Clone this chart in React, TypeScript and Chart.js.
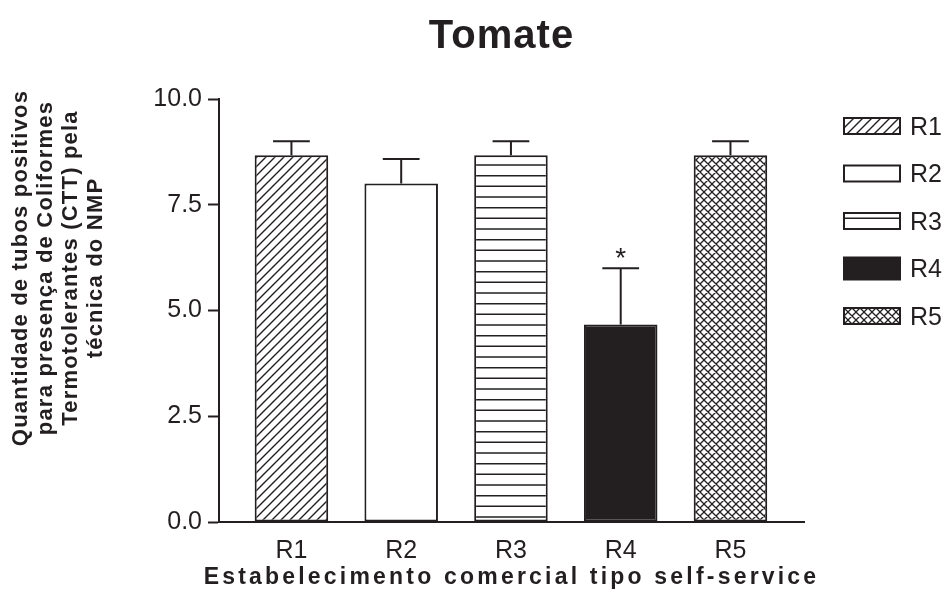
import React, { useEffect, useRef } from 'react';
import { Chart, registerables } from 'chart.js';

Chart.register(...registerables);

const categories = ['R1', 'R2', 'R3', 'R4', 'R5'];
const means = [8.67, 8.0, 8.67, 4.67, 8.67];
const errors = [0.33, 0.58, 0.33, 1.33, 0.33];
const marks = ['', '', '', '*', ''];
const yTicks = [0, 2.5, 5, 7.5, 10];
const chartTitle = 'Tomate';
const xTitle = 'Estabelecimento comercial tipo self-service';
const yTitle = [
  'Quantidade de tubos positivos',
  'para presença de Coliformes',
  'Termotolerantes (CTT) pela',
  'técnica do NMP',
];

const INK = '#231f20';
const FONT = '"Liberation Sans", Arial, Helvetica, sans-serif';

function tile(w: number, h: number, draw: (c: CanvasRenderingContext2D) => void) {
  const cv = document.createElement('canvas');
  cv.width = w;
  cv.height = h;
  const c = cv.getContext('2d')!;
  c.fillStyle = '#ffffff';
  c.fillRect(0, 0, w, h);
  c.strokeStyle = INK;
  draw(c);
  return c.createPattern(cv, 'repeat')!;
}

function diagPattern() {
  const s = 9;
  return tile(s, s, (c) => {
    c.lineWidth = 1.4;
    c.beginPath();
    c.moveTo(-1, s + 1);
    c.lineTo(s + 1, -1);
    c.moveTo(-2, 2);
    c.lineTo(2, -2);
    c.moveTo(s - 2, s + 2);
    c.lineTo(s + 2, s - 2);
    c.stroke();
  });
}

function crossPattern() {
  const s = 8;
  return tile(s, s, (c) => {
    c.lineWidth = 1.3;
    c.beginPath();
    c.moveTo(-1, s + 1);
    c.lineTo(s + 1, -1);
    c.moveTo(-2, 2);
    c.lineTo(2, -2);
    c.moveTo(s - 2, s + 2);
    c.lineTo(s + 2, s - 2);
    c.moveTo(-1, -1);
    c.lineTo(s + 1, s + 1);
    c.moveTo(-2, s - 2);
    c.lineTo(2, s + 2);
    c.moveTo(s - 2, -2);
    c.lineTo(s + 2, 2);
    c.stroke();
  });
}

function horizPattern() {
  const h = 32;
  return tile(8, h, (c) => {
    c.lineWidth = 1.5;
    c.beginPath();
    [5, 15.67, 26.33].forEach((y) => {
      c.moveTo(0, y);
      c.lineTo(8, y);
    });
    c.stroke();
  });
}

export default function App() {
  const ref = useRef<HTMLCanvasElement>(null);

  useEffect(() => {
    const canvas = ref.current!;
    const fills: any[] = [diagPattern(), '#ffffff', horizPattern(), INK, crossPattern()];

    const datasets = categories.map((cat, i) => ({
      label: cat,
      data: [{ x: i, y: means[i] }],
      backgroundColor: fills[i],
      borderColor: INK,
      borderWidth: 2,
      borderSkipped: false,
      grouped: false,
      barPercentage: 0.67,
      categoryPercentage: 1,
    }));

    const errorPlugin = {
      id: 'errorBars',
      afterDatasetsDraw(chart: any) {
        const ctx = chart.ctx;
        const yScale = chart.scales.y;
        ctx.save();
        ctx.strokeStyle = INK;
        ctx.lineWidth = 2;
        categories.forEach((_, i) => {
          const el = chart.getDatasetMeta(i).data[0];
          if (!el) return;
          const yTop = yScale.getPixelForValue(means[i] + errors[i]);
          const half = el.width / 4;
          ctx.beginPath();
          ctx.moveTo(el.x, el.y);
          ctx.lineTo(el.x, yTop);
          ctx.moveTo(el.x - half, yTop);
          ctx.lineTo(el.x + half, yTop);
          ctx.stroke();
          if (marks[i]) {
            ctx.fillStyle = INK;
            ctx.font = `28px ${FONT}`;
            ctx.textAlign = 'center';
            ctx.textBaseline = 'alphabetic';
            ctx.fillText(marks[i], el.x, yTop - 1);
          }
        });
        ctx.restore();
      },
    };

    const legendPlugin = {
      id: 'patternLegend',
      afterDraw(chart: any) {
        const ctx = chart.ctx;
        const ca = chart.chartArea;
        ctx.save();
        categories.forEach((cat, i) => {
          const x = ca.right + 40;
          const cy = ca.top + 27 + 47.5 * i;
          const h = fills[i] === INK ? 22 : 16;
          ctx.fillStyle = fills[i];
          ctx.fillRect(x, cy - h / 2, 56, h);
          ctx.strokeStyle = INK;
          ctx.lineWidth = 2;
          ctx.strokeRect(x, cy - h / 2, 56, h);
          ctx.fillStyle = INK;
          ctx.font = `25px ${FONT}`;
          ctx.textAlign = 'left';
          ctx.textBaseline = 'middle';
          ctx.fillText(cat, x + 66, cy + 2);
        });
        ctx.restore();
      },
    };

    const titlesPlugin = {
      id: 'titles',
      afterDraw(chart: any) {
        const ctx = chart.ctx;
        const ca = chart.chartArea;
        const cx = (ca.left + ca.right) / 2;
        ctx.save();
        ctx.fillStyle = INK;
        ctx.textAlign = 'center';
        ctx.textBaseline = 'middle';
        ctx.font = `bold 40px ${FONT}`;
        (ctx as any).letterSpacing = '1px';
        ctx.fillText(chartTitle, cx - 10, 37);
        ctx.font = `bold 23px ${FONT}`;
        (ctx as any).letterSpacing = '3.2px';
        ctx.fillText(xTitle, cx, 578);
        ctx.font = `bold 22px ${FONT}`;
        (ctx as any).letterSpacing = '1.2px';
        yTitle.forEach((line, j) => {
          ctx.save();
          ctx.translate(21 + 25 * j, 268);
          ctx.rotate(-Math.PI / 2);
          ctx.fillText(line, 0, 0);
          ctx.restore();
        });
        ctx.restore();
      },
    };

    const chart = new Chart(canvas, {
      type: 'bar',
      data: { datasets } as any,
      options: {
        animation: false,
        responsive: false,
        layout: { padding: { top: 99, right: 148, left: 0, bottom: 0 } },
        plugins: {
          legend: { display: false },
          title: { display: false },
          tooltip: { enabled: false },
        },
        scales: {
          x: {
            type: 'linear',
            offset: false,
            min: -0.66,
            max: 4.67,
            afterBuildTicks: (s: any) => {
              s.ticks = categories.map((_, i) => ({ value: i }));
            },
            afterFit: (s: any) => {
              s.height = 84;
            },
            ticks: {
              callback: (v: any) => categories[v] ?? '',
              font: { family: FONT, size: 25 },
              color: INK,
              padding: 14,
              autoSkip: false,
              maxRotation: 0,
            },
            grid: { display: true, drawOnChartArea: false, drawTicks: false, offset: false },
            border: { display: true, color: INK, width: 2 },
          },
          y: {
            type: 'linear',
            min: 0,
            max: 10,
            afterBuildTicks: (s: any) => {
              s.ticks = yTicks.map((v) => ({ value: v }));
            },
            afterFit: (s: any) => {
              s.width = 219;
            },
            ticks: {
              callback: (v: any) => Number(v).toFixed(1),
              font: { family: FONT, size: 25 },
              color: INK,
              padding: 6,
            },
            grid: {
              display: true,
              drawOnChartArea: false,
              drawTicks: true,
              tickLength: 11,
              tickWidth: 2,
              tickColor: INK,
            },
            border: { display: true, color: INK, width: 2 },
          },
        },
      } as any,
      plugins: [errorPlugin, legendPlugin, titlesPlugin],
    });

    return () => chart.destroy();
  }, []);

  return (
    <div style={{ position: 'absolute', left: 0, top: 0, width: 952, height: 606, background: '#fff' }}>
      <canvas ref={ref} width={952} height={606} style={{ display: 'block' }} />
    </div>
  );
}
